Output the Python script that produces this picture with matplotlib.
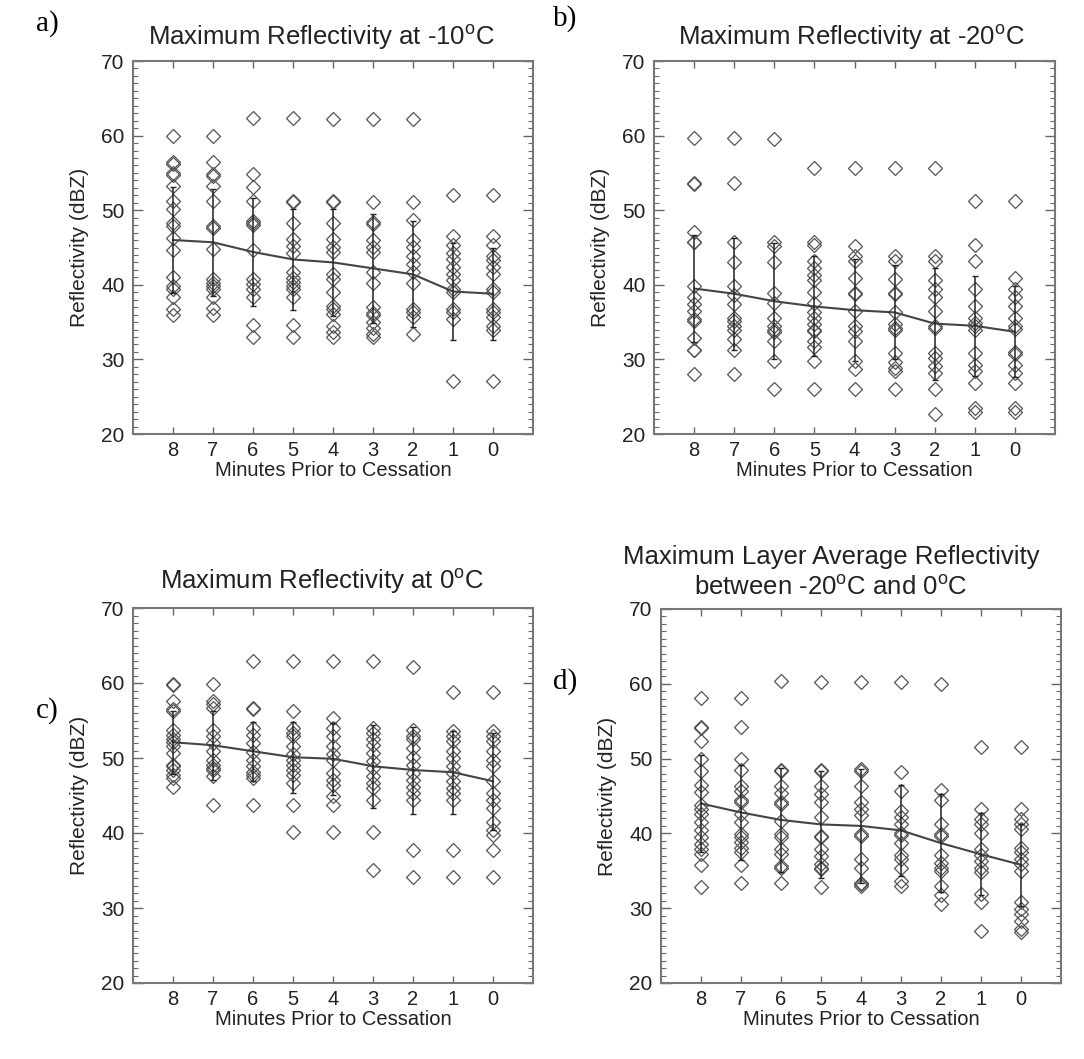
import matplotlib
matplotlib.use("Agg")
import matplotlib.pyplot as plt
from matplotlib.ticker import MultipleLocator

plt.rcParams['font.family'] = ['Liberation Sans', 'DejaVu Sans']
plt.rcParams['mathtext.fontset'] = 'custom'
plt.rcParams['mathtext.rm'] = 'Liberation Sans'

minutes = [8, 7, 6, 5, 4, 3, 2, 1, 0]

# panel a: max reflectivity at -10C
a_pts = [
    [60.0, 56.5, 56.2, 55.0, 54.7, 53.2, 51.3, 50.2, 48.3, 47.9, 46.3, 44.6, 41.1, 39.8, 39.5, 38.3, 36.8, 36.0],
    [60.0, 56.5, 54.9, 54.6, 53.2, 51.3, 47.9, 47.6, 44.8, 40.8, 40.3, 39.9, 39.5, 38.3, 36.9, 36.0],
    [62.4, 54.9, 53.1, 51.3, 48.6, 48.3, 48.0, 44.6, 40.8, 40.1, 39.4, 38.4, 34.6, 33.0],
    [62.3, 51.3, 51.1, 48.3, 46.2, 45.2, 44.3, 41.7, 40.9, 40.4, 39.8, 39.4, 38.3, 34.6, 33.0],
    [62.2, 51.3, 51.1, 48.3, 46.2, 45.1, 44.4, 41.5, 40.8, 39.1, 37.2, 36.7, 36.1, 34.5, 33.7, 33.0],
    [62.2, 51.1, 48.4, 48.2, 46.0, 45.1, 44.4, 41.7, 40.3, 37.0, 36.2, 35.9, 35.0, 34.2, 33.4, 33.0],
    [62.2, 51.1, 48.7, 46.0, 45.1, 43.9, 42.8, 41.7, 40.3, 36.8, 36.3, 35.7, 33.4],
    [52.0, 46.6, 45.3, 44.2, 43.5, 42.4, 41.5, 40.6, 39.5, 39.0, 36.8, 36.3, 35.4, 27.1],
    [52.0, 46.6, 45.3, 43.9, 43.3, 42.4, 41.5, 39.5, 39.0, 36.8, 36.3, 35.7, 34.5, 33.9, 27.1],
]
a_mean = [46.0, 45.7, 44.4, 43.4, 43.0, 42.2, 41.4, 39.1, 38.8]
a_std = [7.1, 7.2, 7.2, 6.8, 7.2, 7.3, 7.1, 6.5, 6.2]

# panel b: max reflectivity at -20C
b_pts = [
    [59.7, 53.6, 53.5, 47.1, 45.8, 45.7, 39.9, 38.4, 37.4, 36.5, 35.4, 35.1, 32.9, 31.3, 31.2, 28.0],
    [59.7, 53.6, 45.8, 43.0, 39.8, 38.6, 37.4, 35.6, 35.1, 34.5, 33.9, 32.7, 31.3, 28.0],
    [59.6, 45.8, 45.2, 43.0, 38.9, 37.5, 35.6, 34.5, 33.9, 33.7, 32.5, 29.8, 26.0],
    [55.7, 45.8, 45.4, 43.2, 42.3, 41.3, 40.7, 39.0, 37.5, 36.3, 35.6, 34.7, 34.0, 33.8, 32.5, 31.7, 29.8, 26.0],
    [55.7, 45.2, 43.8, 43.2, 40.9, 38.9, 38.7, 36.5, 34.5, 33.8, 32.5, 29.8, 28.7, 26.0],
    [55.7, 43.8, 43.2, 40.8, 38.9, 38.7, 36.3, 34.7, 34.2, 34.0, 30.9, 29.6, 28.9, 28.4, 26.0],
    [55.7, 43.8, 43.2, 40.7, 39.4, 38.4, 36.5, 34.5, 34.2, 30.9, 30.2, 29.1, 28.2, 26.0, 22.7],
    [51.2, 45.4, 43.2, 39.4, 37.1, 35.6, 34.9, 34.5, 34.0, 30.9, 29.3, 28.4, 26.9, 23.5, 22.9],
    [51.2, 40.9, 39.4, 38.3, 37.1, 35.6, 34.5, 34.1, 31.0, 30.7, 29.3, 28.2, 26.9, 23.5, 22.9],
]
b_mean = [39.5, 38.8, 37.8, 37.1, 36.6, 36.3, 34.8, 34.5, 33.7]
b_std = [7.2, 7.5, 7.8, 6.7, 6.8, 6.3, 7.5, 6.7, 6.1]

# panel c: max reflectivity at 0C
c_pts = [
    [59.9, 59.8, 57.6, 56.6, 56.3, 53.7, 53.1, 52.5, 52.1, 51.6, 50.7, 49.1, 48.9, 48.4, 47.8, 47.3, 46.1],
    [59.9, 57.6, 57.2, 56.7, 53.8, 52.9, 52.0, 50.9, 49.8, 49.1, 48.7, 48.4, 47.6, 43.7],
    [62.9, 56.7, 56.5, 54.0, 53.1, 52.0, 50.8, 49.7, 48.9, 48.2, 47.8, 47.3, 43.7],
    [62.9, 56.3, 54.0, 53.4, 52.9, 51.6, 50.5, 49.8, 49.1, 48.4, 47.8, 46.7, 43.7, 40.1],
    [62.9, 55.3, 54.0, 52.9, 51.6, 50.6, 49.8, 48.0, 47.1, 46.4, 44.9, 43.7, 40.2],
    [62.9, 54.0, 53.4, 52.5, 51.8, 50.7, 49.6, 48.7, 47.6, 46.7, 46.0, 44.4, 40.2, 35.1],
    [62.1, 53.8, 52.9, 52.5, 51.4, 50.2, 49.1, 48.0, 47.1, 46.2, 45.3, 44.4, 37.8, 34.2],
    [58.8, 53.6, 52.9, 52.3, 50.9, 50.0, 48.9, 48.0, 46.9, 46.0, 45.3, 44.4, 37.8, 34.2],
    [58.8, 53.6, 52.9, 52.3, 50.9, 49.8, 48.9, 46.9, 45.3, 44.4, 43.3, 41.5, 40.4, 39.7, 37.8, 34.2],
]
c_mean = [52.1, 51.7, 50.9, 50.1, 49.9, 48.9, 48.4, 48.1, 46.9]
c_std = [4.2, 4.6, 3.9, 4.7, 4.8, 5.5, 5.8, 5.5, 6.5]

# panel d: max layer average reflectivity -20C..0C
d_pts = [
    [58.1, 54.2, 54.1, 52.3, 50.0, 48.4, 46.5, 45.6, 43.8, 43.3, 42.6, 41.5, 40.4, 39.5, 38.6, 37.9, 37.3, 35.8, 32.9],
    [58.1, 54.2, 50.0, 48.5, 46.4, 45.7, 44.5, 44.2, 42.6, 41.5, 39.9, 39.5, 38.8, 38.0, 37.5, 35.8, 33.4],
    [60.4, 48.5, 48.3, 46.4, 45.4, 44.2, 43.9, 41.7, 39.9, 39.5, 37.9, 37.2, 35.7, 35.4, 33.4],
    [60.2, 48.5, 48.3, 46.4, 45.3, 44.2, 42.2, 39.7, 39.5, 37.9, 37.0, 35.9, 35.4, 35.2, 32.9],
    [60.2, 48.6, 48.3, 46.3, 44.2, 43.3, 42.4, 39.9, 39.7, 36.6, 35.4, 33.4, 33.2, 33.0],
    [60.2, 48.2, 45.7, 43.0, 42.2, 41.3, 40.0, 39.8, 38.7, 37.1, 36.6, 35.4, 33.7, 33.0],
    [60.0, 45.8, 44.5, 41.3, 39.9, 39.7, 37.1, 36.1, 35.4, 35.0, 33.0, 31.7, 30.6],
    [51.5, 43.2, 41.9, 41.3, 40.0, 37.9, 37.1, 36.3, 35.4, 34.8, 31.9, 30.8, 26.9],
    [51.5, 43.2, 41.9, 41.3, 40.6, 38.0, 37.5, 36.6, 35.9, 35.0, 30.8, 29.9, 29.2, 28.3, 27.2, 26.8],
]
d_mean = [44.0, 42.8, 41.8, 41.2, 41.0, 40.4, 38.7, 37.2, 35.8]
d_std = [6.5, 6.3, 6.9, 7.1, 7.6, 6.1, 6.6, 5.5, 5.5]

W, H = 1084, 1059
fig = plt.figure(figsize=(W / 100, H / 100), dpi=100)


def panel(box, pts, mean, std):
    l, t, r, b = box
    ax = fig.add_axes([l / W, 1 - b / H, (r - l) / W, (b - t) / H])
    for m, vals in zip(minutes, pts):
        ax.plot([m] * len(vals), vals, 'D', mfc='none', mec='#555555',
                ms=6.8, mew=0.9, zorder=2)
    ax.plot(minutes, mean, color='#444444', lw=1.5, zorder=3)
    ax.errorbar(minutes, mean, yerr=std, fmt='none', ecolor='#222222',
                elinewidth=1.1, capsize=2.5, capthick=1.0, zorder=3)
    ax.set_xlim(9, -1)
    ax.set_ylim(20, 70)
    ax.set_xticks(minutes)
    ax.set_yticks([20, 30, 40, 50, 60, 70])
    ax.yaxis.set_minor_locator(MultipleLocator(1))
    ax.tick_params(axis='both', which='both', direction='in', colors='#666666',
                   labelcolor='#222222', labelsize=15)
    ax.tick_params(axis='y', which='major', length=7, width=1.0, right=True, pad=6)
    ax.tick_params(axis='y', which='minor', length=3.5, width=0.8, right=True)
    ax.tick_params(axis='x', which='major', length=5, width=1.0, top=True, pad=5)
    ax.tick_params(axis='x', labelsize=14.5)
    for s in ax.spines.values():
        s.set_color('#777777')
        s.set_linewidth(1.5)
    ax.set_xlabel('Minutes Prior to Cessation', fontsize=14.5, color='#222222', labelpad=1)
    ax.set_ylabel('Reflectivity (dBZ)', fontsize=15, color='#222222')
    ax.yaxis.set_label_coords(-44 / (r - l), 0.5)
    return ax


panel((133, 61, 533, 434), a_pts, a_mean, a_std)
panel((654, 61, 1055, 434), b_pts, b_mean, b_std)
panel((133, 608, 533, 983), c_pts, c_mean, c_std)
panel((661, 609, 1061, 983), d_pts, d_mean, d_std)

tkw = dict(fontsize=18.5, color='#222222', ha='center', va='center')
fig.text(321 / W, 1 - 37 / H, r'Maximum Reflectivity at -10$^{\rm o}$C', **tkw)
fig.text(851 / W, 1 - 37 / H, r'Maximum Reflectivity at -20$^{\rm o}$C', **tkw)
fig.text(322 / W, 1 - 581 / H, r'Maximum Reflectivity at 0$^{\rm o}$C', **tkw)
fig.text(831 / W, 1 - 572 / H,
         'Maximum Layer Average Reflectivity\n' + r'between -20$^{\rm o}$C and 0$^{\rm o}$C',
         linespacing=1.3, **tkw)

lkw = dict(fontsize=21, family='Liberation Serif', color='black', ha='left', va='center')
fig.text(36 / W, 1 - 24 / H, 'a)', **lkw)
fig.text(553 / W, 1 - 19 / H, 'b)', **lkw)
fig.text(36 / W, 1 - 711 / H, 'c)', **lkw)
fig.text(553 / W, 1 - 682 / H, 'd)', **lkw)

fig.savefig('out.png', dpi=100)
